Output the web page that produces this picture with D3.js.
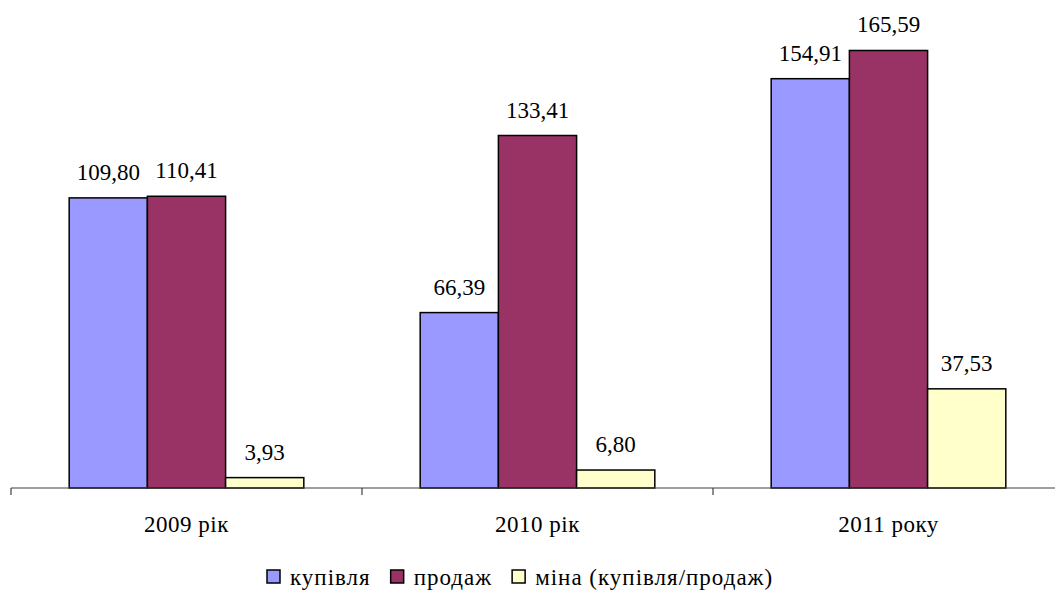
<!DOCTYPE html>
<html>
<head>
<meta charset="utf-8">
<script src="https://cdn.jsdelivr.net/npm/d3@7"></script>
<style>
  body { margin: 0; background: #fff; }
  text { font-family: 'Liberation Serif', 'DejaVu Serif', serif; }
</style>
</head>
<body>
<div class="chart"></div>
<script>
// data
const categories = ["2009 рік", "2010 рік", "2011 року"];
const seriesNames = ["купівля", "продаж", "міна (купівля/продаж)"];
const kupivlia = [109.80, 66.39, 154.91];
const prodazh = [110.41, 133.41, 165.59];
const mina = [3.93, 6.80, 37.53];
const colors = ["#9999FF", "#993366", "#FFFFCC"];

const width = 1055, height = 595;
const seriesValues = [kupivlia, prodazh, mina];

const rows = categories.map((c, i) => ({
  key: c,
  values: seriesNames.map((s, j) => ({ series: s, idx: j, value: seriesValues[j][i] }))
}));

const svg = d3.select(".chart").append("svg")
  .attr("width", width)
  .attr("height", height)
  .attr("font-family", "Liberation Serif, serif");

const x0 = d3.scaleBand().domain(categories).range([11, 1064]).paddingInner(0).paddingOuter(0);
const x1 = d3.scaleBand().domain(seriesNames).range([0, x0.bandwidth()]).paddingInner(0).paddingOuter(0.744);
const y = d3.scaleLinear().domain([0, 180]).range([488, 12.4]);

const fmt = d3.formatLocale({ decimal: ",", thousands: " ", grouping: [3], currency: ["", ""] }).format(".2f");

// bars
const groups = svg.append("g").selectAll("g")
  .data(rows)
  .join("g")
  .attr("transform", d => `translate(${x0(d.key)},0)`);

groups.selectAll("rect")
  .data(d => d.values)
  .join("rect")
  .attr("x", d => x1(d.series))
  .attr("y", d => y(d.value))
  .attr("width", x1.bandwidth())
  .attr("height", d => y(0) - y(d.value))
  .attr("fill", d => colors[d.idx])
  .attr("stroke", "#000")
  .attr("stroke-width", 1.5);

groups.selectAll("text")
  .data(d => d.values)
  .join("text")
  .attr("x", d => x1(d.series) + x1.bandwidth() / 2)
  .attr("y", d => y(d.value) - 18)
  .attr("text-anchor", "middle")
  .attr("font-size", 23)
  .attr("fill", "#000")
  .text(d => fmt(d.value));

// x axis: line, ticks at group boundaries, labels centered
const axis = svg.append("g");
axis.append("line")
  .attr("x1", x0.range()[0]).attr("x2", x0.range()[1])
  .attr("y1", y(0)).attr("y2", y(0))
  .attr("stroke", "#404040").attr("stroke-width", 1.2);
axis.selectAll(".tick")
  .data(categories)
  .join("line")
  .attr("class", "tick")
  .attr("x1", d => x0(d)).attr("x2", d => x0(d))
  .attr("y1", y(0)).attr("y2", y(0) + 7)
  .attr("stroke", "#404040").attr("stroke-width", 1.2);
axis.selectAll(".label")
  .data(categories)
  .join("text")
  .attr("class", "label")
  .attr("x", d => x0(d) + x0.bandwidth() / 2)
  .attr("y", 532)
  .attr("text-anchor", "middle")
  .attr("font-size", 23)
  .attr("letter-spacing", 0.5)
  .text(d => d);

// legend
const legend = svg.append("g").attr("transform", "translate(267,585)");
let lx = 0;
seriesNames.forEach((s, i) => {
  const item = legend.append("g").attr("transform", `translate(${lx},0)`);
  item.append("rect")
    .attr("x", 0).attr("y", -15)
    .attr("width", 13).attr("height", 13)
    .attr("fill", colors[i])
    .attr("stroke", "#000").attr("stroke-width", 1.5);
  const t = item.append("text")
    .attr("x", 23).attr("y", 0)
    .attr("font-size", 23)
    .attr("letter-spacing", 1)
    .text(s);
  lx += 23 + t.node().getComputedTextLength() + 20;
});
</script>
</body>
</html>
